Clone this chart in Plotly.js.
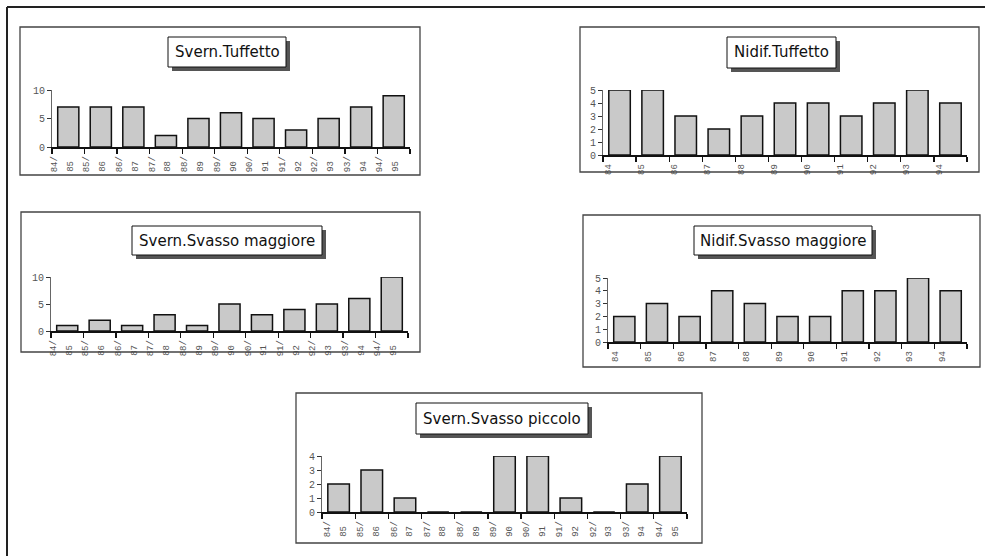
<!DOCTYPE html>
<html><head><meta charset="utf-8">
<script src="https://cdn.plot.ly/plotly-3.0.1.min.js"></script>
<style>html,body{margin:0;padding:0;background:#fff}</style>
</head><body><div id="chart" style="width:985px;height:556px"></div>
<script>
// ---- data ----
const svernFrom = ['84','85','86','87','88','89','90','91','92','93','94'];
const svernTo   = ['85','86','87','88','89','90','91','92','93','94','95'];
const nidifYears = ['84','85','86','87','88','89','90','91','92','93','94'];

const svernTuffetto       = [7,7,7,2,5,6,5,3,5,7,9];
const nidifTuffetto       = [5,5,3,2,3,4,4,3,4,5,4];
const svernSvassoMaggiore = [1,2,1,3,1,5,3,4,5,6,10];
const nidifSvassoMaggiore = [2,3,2,4,3,2,2,4,4,5,4];
const svernSvassoPiccolo  = [2,3,1,0,0,4,4,1,0,2,4];

const svernLine1 = svernFrom.map(a => a + '/');
const svernLine2 = svernTo.map(a => a + '\u00a0');

// ---- layout (pixel geometry) ----
const W = 985, H = 556;
const px = x => x / W;
const py = y => 1 - y / H;

const panels = [
  {title:'Svern.Tuffetto', values:svernTuffetto, lab1:svernLine1, off1:-0.44, lab2:svernLine2, off2:0.05, ymax:10, dtick:5,
   box:[20,27,420,175], plot:[52,90,410,147], tbox:[168,37,286,67]},
  {title:'Nidif.Tuffetto', values:nidifTuffetto, lab1:nidifYears, off1:-0.34, ymax:5, dtick:1,
   box:[580,27,979,172], plot:[603,90,967,155], tbox:[727,37,836,68]},
  {title:'Svern.Svasso maggiore', values:svernSvassoMaggiore, lab1:svernLine1, off1:-0.44, lab2:svernLine2, off2:0.05, ymax:10, dtick:5,
   box:[21,212,420,352], plot:[51,277,408,331], tbox:[132,226,322,255]},
  {title:'Nidif.Svasso maggiore', values:nidifSvassoMaggiore, lab1:nidifYears, off1:-0.27, ymax:5, dtick:1,
   box:[583,215,980,367], plot:[608,278,967,342], tbox:[694,226,872,255]},
  {title:'Svern.Svasso piccolo', values:svernSvassoPiccolo, lab1:svernLine1, off1:-0.34, lab2:svernLine2, off2:0.13, ymax:4, dtick:1,
   box:[296,393,702,543], plot:[322,456,687,512], tbox:[416,403,588,434]}
];

const traces = [];
const layout = {
  width: W, height: H,
  margin: {l:0, r:0, t:0, b:0},
  paper_bgcolor: '#fff', plot_bgcolor: 'rgba(0,0,0,0)',
  showlegend: false,
  shapes: [], annotations: []
};

// outer frame
layout.shapes.push({type:'line', xref:'paper', yref:'paper', x0:px(7), x1:px(7), y0:py(7), y1:py(556), line:{color:'#222', width:2}});
layout.shapes.push({type:'line', xref:'paper', yref:'paper', x0:px(7), x1:px(985), y0:py(7), y1:py(7), line:{color:'#222', width:2}});

const xTickFont = {family:'Liberation Mono, DejaVu Sans Mono, monospace', size:9, color:'#555'};
const yTickFont = {family:'Liberation Mono, DejaVu Sans Mono, monospace', size:10, color:'#555'};

panels.forEach((p, k) => {
  const n = k + 1;
  const xn = 'x' + (n === 1 ? '' : n);
  const yn = 'y' + (n === 1 ? '' : n);
  const xk = 'xaxis' + (n === 1 ? '' : n);
  const yk = 'yaxis' + (n === 1 ? '' : n);
  const dom = [px(p.plot[0]), px(p.plot[2])];

  traces.push({
    type:'bar', x: p.values.map((_, j) => j), y: p.values,
    width: 0.65, xaxis: xn, yaxis: yn, hoverinfo:'skip',
    marker: {color:'#d0d0d0',
      pattern:{shape:'.', fgcolor:'#a8a8a8', bgcolor:'#e4e4e4', size:2, solidity:0.5},
      line:{color:'#111', width:1.5}}
  });

  layout[xk] = {
    domain:dom, range:[-0.5, 10.5], anchor: yn,
    showline:true, linecolor:'#111', linewidth:1.5,
    tickmode:'array', tickvals: p.lab1.map((_, j) => j + p.off1), ticktext: p.lab1,
    tickangle:-90, ticks:'outside', ticklen:4, tickcolor:'rgba(0,0,0,0)',
    tickfont: xTickFont,
    minor:{tickmode:'linear', tick0:-0.5, dtick:1, ticks:'outside', ticklen:5, tickcolor:'#111', tickwidth:1.2},
    showgrid:false, zeroline:false, fixedrange:true
  };
  layout[yk] = {
    domain:[py(p.plot[3]), py(p.plot[1])], range:[0, p.ymax], anchor: xn,
    showline:true, linecolor:'#666', linewidth:1,
    tickmode:'linear', tick0:0, dtick:p.dtick,
    ticks:'outside', ticklen:4, tickcolor:'#333', tickwidth:1,
    tickfont: yTickFont,
    showgrid:false, zeroline:false, fixedrange:true
  };

  if (p.lab2) {
    const m = n + 5;
    const xk2 = 'xaxis' + m;
    layout[xk2] = {
      domain:dom, range:[-0.5, 10.5], anchor: yn, overlaying: xn,
      showline:false,
      tickmode:'array', tickvals: p.lab2.map((_, j) => j + p.off2), ticktext: p.lab2,
      tickangle:-90, ticks:'outside', ticklen:4, tickcolor:'rgba(0,0,0,0)',
      tickfont: xTickFont, side:'bottom',
      showgrid:false, zeroline:false, fixedrange:true
    };
    traces.push({type:'scatter', x:[], y:[], xaxis:'x'+m, yaxis:yn, hoverinfo:'skip', showlegend:false});
  }

  // panel box
  layout.shapes.push({type:'rect', xref:'paper', yref:'paper',
    x0:px(p.box[0]), x1:px(p.box[2]), y0:py(p.box[3]), y1:py(p.box[1]),
    line:{color:'#444', width:1.3}, fillcolor:'rgba(0,0,0,0)'});
  // title shadow
  layout.shapes.push({type:'rect', xref:'paper', yref:'paper',
    x0:px(p.tbox[0]+4), x1:px(p.tbox[2]+4), y0:py(p.tbox[3]+4), y1:py(p.tbox[1]+4),
    line:{width:0}, fillcolor:'#555'});
  // title box
  layout.shapes.push({type:'rect', xref:'paper', yref:'paper',
    x0:px(p.tbox[0]), x1:px(p.tbox[2]), y0:py(p.tbox[3]), y1:py(p.tbox[1]),
    line:{color:'#111', width:1}, fillcolor:'#fff'});
  layout.annotations.push({
    text: p.title, xref:'paper', yref:'paper',
    x: px((p.tbox[0]+p.tbox[2])/2), y: py((p.tbox[1]+p.tbox[3])/2),
    xanchor:'center', yanchor:'middle', showarrow:false,
    font:{family:'DejaVu Sans, Verdana, sans-serif', size:15, color:'#111'}
  });
});

Plotly.newPlot('chart', traces, layout, {staticPlot:true, displayModeBar:false});
</script>
</body></html>
